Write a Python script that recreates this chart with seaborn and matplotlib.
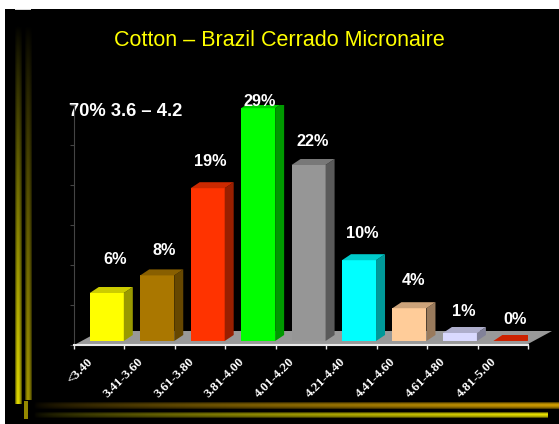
import numpy as np
import matplotlib
matplotlib.use('Agg')
import matplotlib.pyplot as plt
import matplotlib.patches as mpatches
from matplotlib.colors import LinearSegmentedColormap, to_rgb
import seaborn as sns

# values
categories = ['<3.40', '3.41-3.60', '3.61-3.80', '3.81-4.00', '4.01-4.20',
              '4.21-4.40', '4.41-4.60', '4.61-4.80', '4.81-5.00']
values = [6.0, 8.2, 19.1, 29.1, 22.0, 10.1, 4.1, 1.0, 0.0]
labels = ['6%', '8%', '19%', '29%', '22%', '10%', '4%', '1%', '0%']
colors = ['#FFFF00', '#AA7700', '#FF3300', '#00FF00', '#969696',
          '#00FFFF', '#FFCC99', '#D9D9FF', '#FF2B00']
# label position relative to the bar's front top, pixels
label_dx = [8, 7, 3, 2, 4, 3, 4, 4, 5]
label_dy = [33, 25, 27, 7, 24, 27, 28, 22, 22]

W, H = 559, 424
sns.set_theme(style='white')
plt.rcParams['font.family'] = ['Liberation Sans', 'DejaVu Sans']

fig = plt.figure(figsize=(W / 100, H / 100), dpi=100, facecolor='white')

# background with the gold stripes, in pixel coords
bg = fig.add_axes([0, 0, 1, 1])
bg.set_xlim(0, W)
bg.set_ylim(H, 0)
bg.axis('off')
bg.add_patch(mpatches.Rectangle((5, 9), W - 5, H - 9, color='black', lw=0))


def stripe(x0, x1, y0, y1, col, vertical=False, gamma=1.0):
    cmap = LinearSegmentedColormap.from_list('s', ['black', col])
    along = np.linspace(0, 1, 256) ** gamma
    # bevel across the stripe, dark at the edges
    across = np.array([0.45, 0.85, 1.0, 0.9, 0.75, 0.4])
    g = np.outer(along, across) if vertical else np.outer(across, along)
    bg.imshow(g, extent=(x0, x1, y1, y0), cmap=cmap, vmin=0, vmax=1,
              aspect='auto', interpolation='bilinear', zorder=2)


stripe(15, 22, 25, 404, '#E8E000', vertical=True, gamma=0.8)
stripe(24.5, 31, 25, 400, '#A89C00', vertical=True, gamma=0.8)
bg.add_patch(mpatches.Rectangle((15, 9), 16, 1, color='#D8D8D8', lw=0, zorder=3))
bg.add_patch(mpatches.Rectangle((23.5, 401), 4.5, 18, color='#948800', lw=0, zorder=3))
stripe(33, W, 403, 409.5, '#D4A000', gamma=0.6)
stripe(33, 548, 412, 418, '#E8E000', gamma=0.6)
bg.set_xlim(0, W)
bg.set_ylim(H, 0)

# plot area: axis runs 74..528 px, baseline at 345 px, 8 px per percent
ax = fig.add_axes([74 / W, (H - 345) / H, 454 / W, 240 / H])
ax.patch.set_alpha(0)

sns.barplot(x=categories, y=values, hue=categories, palette=colors, legend=False,
            width=34 / 50.4, saturation=1, linewidth=0, ax=ax, zorder=2)

x_lo, x_hi = -0.65, 8.35
y_lo, y_hi = -0.5, 29.5
ax.set_xlim(x_lo, x_hi)
ax.set_ylim(y_lo, y_hi)
px_x = (x_hi - x_lo) / 454
px_y = (y_hi - y_lo) / 240

# floor
floor = [(x_lo + 2 * px_x, y_lo + 1 * px_y), (x_hi, y_lo + 1 * px_y),
         (x_hi + 24 * px_x, y_lo + 14 * px_y), (x_lo + 26 * px_x, y_lo + 14 * px_y)]
ax.add_patch(mpatches.Polygon(floor, color='#999999', lw=0, zorder=1, clip_on=False))

# depth faces of each bar
dx, dy = 9 * px_x, 6 * px_y
bars = [c[0] for c in ax.containers]
for bar, col, lab, ldx, ldy in zip(bars, colors, labels, label_dx, label_dy):
    x0, x1 = bar.get_x(), bar.get_x() + bar.get_width()
    top = bar.get_height()
    rgb = np.array(to_rgb(col))
    side = [(x1, 0), (x1 + dx, dy), (x1 + dx, top + dy), (x1, top)]
    roof = [(x0, top), (x1, top), (x1 + dx, top + dy), (x0 + dx, top + dy)]
    ax.add_patch(mpatches.Polygon(side, color=rgb * 0.6, lw=0, zorder=2))
    ax.add_patch(mpatches.Polygon(roof, color=rgb * 0.8, lw=0, zorder=2))
    ax.text((x0 + x1) / 2 + ldx * px_x, top + ldy * px_y, lab, color='white',
            fontsize=11.7, fontweight='bold', ha='center', va='center', zorder=5)

# axes
sns.despine(ax=ax, top=True, right=True)
ax.spines['left'].set_color('#444444')
ax.spines['left'].set_linewidth(0.8)
ax.spines['bottom'].set_color('#E8E8E8')
ax.spines['bottom'].set_linewidth(1.5)
ax.set_yticks(np.arange(y_lo, y_hi + 0.1, 5))
ax.set_yticklabels([])
ax.tick_params(axis='y', left=True, length=3, width=0.8, color='#444444')
ax.set_xticks(np.arange(10) + x_lo, minor=True)
ax.tick_params(axis='x', which='minor', bottom=True, length=3, width=1, color='#E8E8E8')
ax.set_xticks(np.arange(9) + x_lo + 13 * px_x)
ax.set_xticklabels(categories, rotation=45, ha='right', rotation_mode='anchor',
                   fontfamily='Liberation Serif', fontweight='bold', fontsize=9.5, color='white')
ax.tick_params(axis='x', which='major', length=0, pad=7.5)

bg.text(279, 41, 'Cotton \u2013 Brazil Cerrado Micronaire', color='#FFFF00', fontsize=15.5,
        ha='center', va='center', zorder=5)
bg.text(126, 112, '70% 3.6 \u2013 4.2', color='white', fontsize=13.2, fontweight='bold',
        ha='center', va='center', zorder=5)

fig.savefig('out.png', dpi=100, facecolor='white')
